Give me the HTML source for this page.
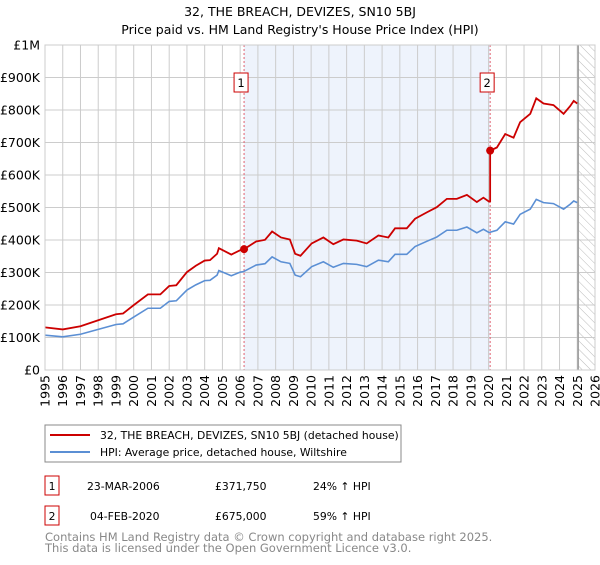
<!DOCTYPE html>
<html><head><meta charset="utf-8"><style>
body{margin:0;background:#fff;font-family:"Liberation Sans","DejaVu Sans",sans-serif}
svg text{font-family:"DejaVu Sans","Liberation Sans",sans-serif}
</style></head><body>
<svg id="c" width="600" height="560" xmlns="http://www.w3.org/2000/svg">
<defs><pattern id="hatch" width="6" height="6" patternUnits="userSpaceOnUse" patternTransform="rotate(-45)"><line x1="0" y1="0" x2="0" y2="6" stroke="#bbb" stroke-width="1"/></pattern></defs>
<text x="300" y="16" text-anchor="middle" font-size="12.5">32, THE BREACH, DEVIZES, SN10 5BJ</text>
<text x="300" y="34" text-anchor="middle" font-size="12.5">Price paid vs. HM Land Registry's House Price Index (HPI)</text>
<g id="plot"></g>
<rect x="45" y="425" width="356" height="37" fill="#fff" stroke="#888"/>
<line x1="50" y1="435" x2="90" y2="435" stroke="#cc0000" stroke-width="2"/>
<text x="100" y="439" font-size="10.8">32, THE BREACH, DEVIZES, SN10 5BJ (detached house)</text>
<line x1="50" y1="452" x2="90" y2="452" stroke="#5b8fd4" stroke-width="2"/>
<text x="100" y="456" font-size="10.8">HPI: Average price, detached house, Wiltshire</text>
<g>
<rect x="45" y="476" width="14" height="19" fill="#fff" stroke="#cc0000"/><text x="52" y="490" text-anchor="middle" font-size="10.8">1</text>
<text x="87" y="490" font-size="10.8">23-MAR-2006</text><text x="215" y="490" font-size="10.8">£371,750</text><text x="313" y="490" font-size="10.8">24% ↑ HPI</text></g>
<g>
<rect x="45" y="506" width="14" height="19" fill="#fff" stroke="#cc0000"/><text x="52" y="520" text-anchor="middle" font-size="10.8">2</text>
<text x="90" y="520" font-size="10.8">04-FEB-2020</text><text x="215" y="520" font-size="10.8">£675,000</text><text x="313" y="520" font-size="10.8">59% ↑ HPI</text></g>
<text x="45" y="541" font-size="11.5" fill="#888">Contains HM Land Registry data © Crown copyright and database right 2025.</text>
<text x="45" y="552" font-size="11.5" fill="#888">This data is licensed under the Open Government Licence v3.0.</text>
</svg>
<script>
const hpiYears=[1995.0,1996.0,1997.0,1998.0,1999.0,1999.4,2000.0,2000.8,2001.5,2002.0,2002.4,2003.0,2003.5,2004.0,2004.3,2004.7,2004.8,2005.5,2006.0,2006.2,2006.9,2007.4,2007.8,2008.3,2008.8,2009.1,2009.4,2010.03,2010.69,2011.25,2011.82,2012.57,2013.13,2013.79,2014.35,2014.73,2015.39,2015.86,2016.52,2017.08,2017.65,2018.21,2018.78,2019.34,2019.71,2020.03,2020.47,2020.94,2021.41,2021.78,2022.35,2022.69,2023.1,2023.66,2024.23,2024.6,2024.8,2025.0];
const hpiValues=[107,102,110,125,140,142,163,190,190,211,213,246,262,275,276,292,306,290,301,303,323,327,348,333,328,292,287,318,333,316,328,325,318,338,333,356,356,380,396,409,430,430,440,422,433,423,430,456,449,479,495,525,515,512,495,510,520,515];
const saleYears=[2006.22,2020.09];
const salePrices=[371750,675000];
const yTicks=[0,100000,200000,300000,400000,500000,600000,700000,800000,900000,1000000];
const yTickLabels=["£0","£100K","£200K","£300K","£400K","£500K","£600K","£700K","£800K","£900K","£1M"];
const xTicks=[1995,1996,1997,1998,1999,2000,2001,2002,2003,2004,2005,2006,2007,2008,2009,2010,2011,2012,2013,2014,2015,2016,2017,2018,2019,2020,2021,2022,2023,2024,2025,2026];
const dataEnd=2025.05;
const X0=45,X1=595,Y0=370,Y1=45;
const xs=y=>X0+(y-1995)/(2026-1995)*(X1-X0);
const ys=v=>Y0-v/1000000*(Y0-Y1);
const NS="http://www.w3.org/2000/svg";
const g=document.getElementById('plot');
function mk(t,a,p){const e=document.createElementNS(NS,t);for(const k in a)e.setAttribute(k,a[k]);(p||g).appendChild(e);return e;}
function hpiAt(t){for(let i=0;i<hpiYears.length-1;i++){if(t<=hpiYears[i+1]){const f=(t-hpiYears[i])/(hpiYears[i+1]-hpiYears[i]);return (hpiValues[i]+f*(hpiValues[i+1]-hpiValues[i]))*1000;}}return hpiValues[hpiValues.length-1]*1000;}
let r=mk('rect',{x:xs(saleYears[0]),y:Y1,width:xs(saleYears[1])-xs(saleYears[0]),height:Y0-Y1,fill:'#eef3fc'});


r=mk('rect',{x:xs(dataEnd),y:Y1,width:X1-xs(dataEnd),height:Y0-Y1,fill:'url(#hatch)'});


yTicks.forEach((v,i)=>{const l=mk('line',{x1:X0,x2:X1,y1:ys(v),y2:ys(v),stroke:'#ccc'});


const t=mk('text',{x:X0-5,y:ys(v)+4.5,'text-anchor':'end','font-size':'12.5'});t.textContent=yTickLabels[i];

});
xTicks.forEach(y=>{const l=mk('line',{x1:xs(y),x2:xs(y),y1:Y1,y2:Y0,stroke:'#ccc'});


const t=mk('text',{x:0,y:0,'text-anchor':'end','font-size':'12.5',transform:`translate(${xs(y)+4.5},${Y0+5}) rotate(-90)`});t.textContent=y;

});
let l=mk('line',{x1:xs(dataEnd),x2:xs(dataEnd),y1:Y1,y2:Y0,stroke:'#999',"stroke-width":1.5});


saleYears.forEach((s,i)=>{const d=mk('line',{x1:xs(s),x2:xs(s),y1:Y1,y2:Y0,stroke:'#e06070','stroke-dasharray':'2,2'});


const b=mk('rect',{x:xs(s)-10,y:73,width:14,height:19,fill:'#fff',stroke:'#cc0000'});


const t=mk('text',{x:xs(s)-3,y:87,'text-anchor':'middle','font-size':'11.5'});t.textContent=String(i+1);

});
let pts=hpiYears.map((y,i)=>xs(y)+','+ys(hpiValues[i]*1000)).join(' ');
let p=mk('polyline',{points:pts,fill:'none',stroke:'#5b8fd4','stroke-width':1.6});


const r0=salePrices[0]/hpiAt(saleYears[0]),r1=salePrices[1]/hpiAt(saleYears[1]);
let rp=[];hpiYears.forEach((y,i)=>{if(y<saleYears[1])rp.push([y,hpiValues[i]*1000*r0]);});
rp.push([saleYears[1],hpiAt(saleYears[1])*r0]);rp.push([saleYears[1],salePrices[1]]);
hpiYears.forEach((y,i)=>{if(y>saleYears[1])rp.push([y,hpiValues[i]*1000*r1]);});
p=mk('polyline',{points:rp.map(a=>xs(a[0])+','+ys(a[1])).join(' '),fill:'none',stroke:'#cc0000','stroke-width':1.8});


saleYears.forEach((s,i)=>{const c=mk('circle',{cx:xs(s),cy:ys(salePrices[i]),r:4,fill:'#cc0000'});

});
const fr=mk('rect',{x:X0,y:Y1,width:X1-X0,height:Y0-Y1,fill:'none',stroke:'#ccc'});


</script>
</body></html>
